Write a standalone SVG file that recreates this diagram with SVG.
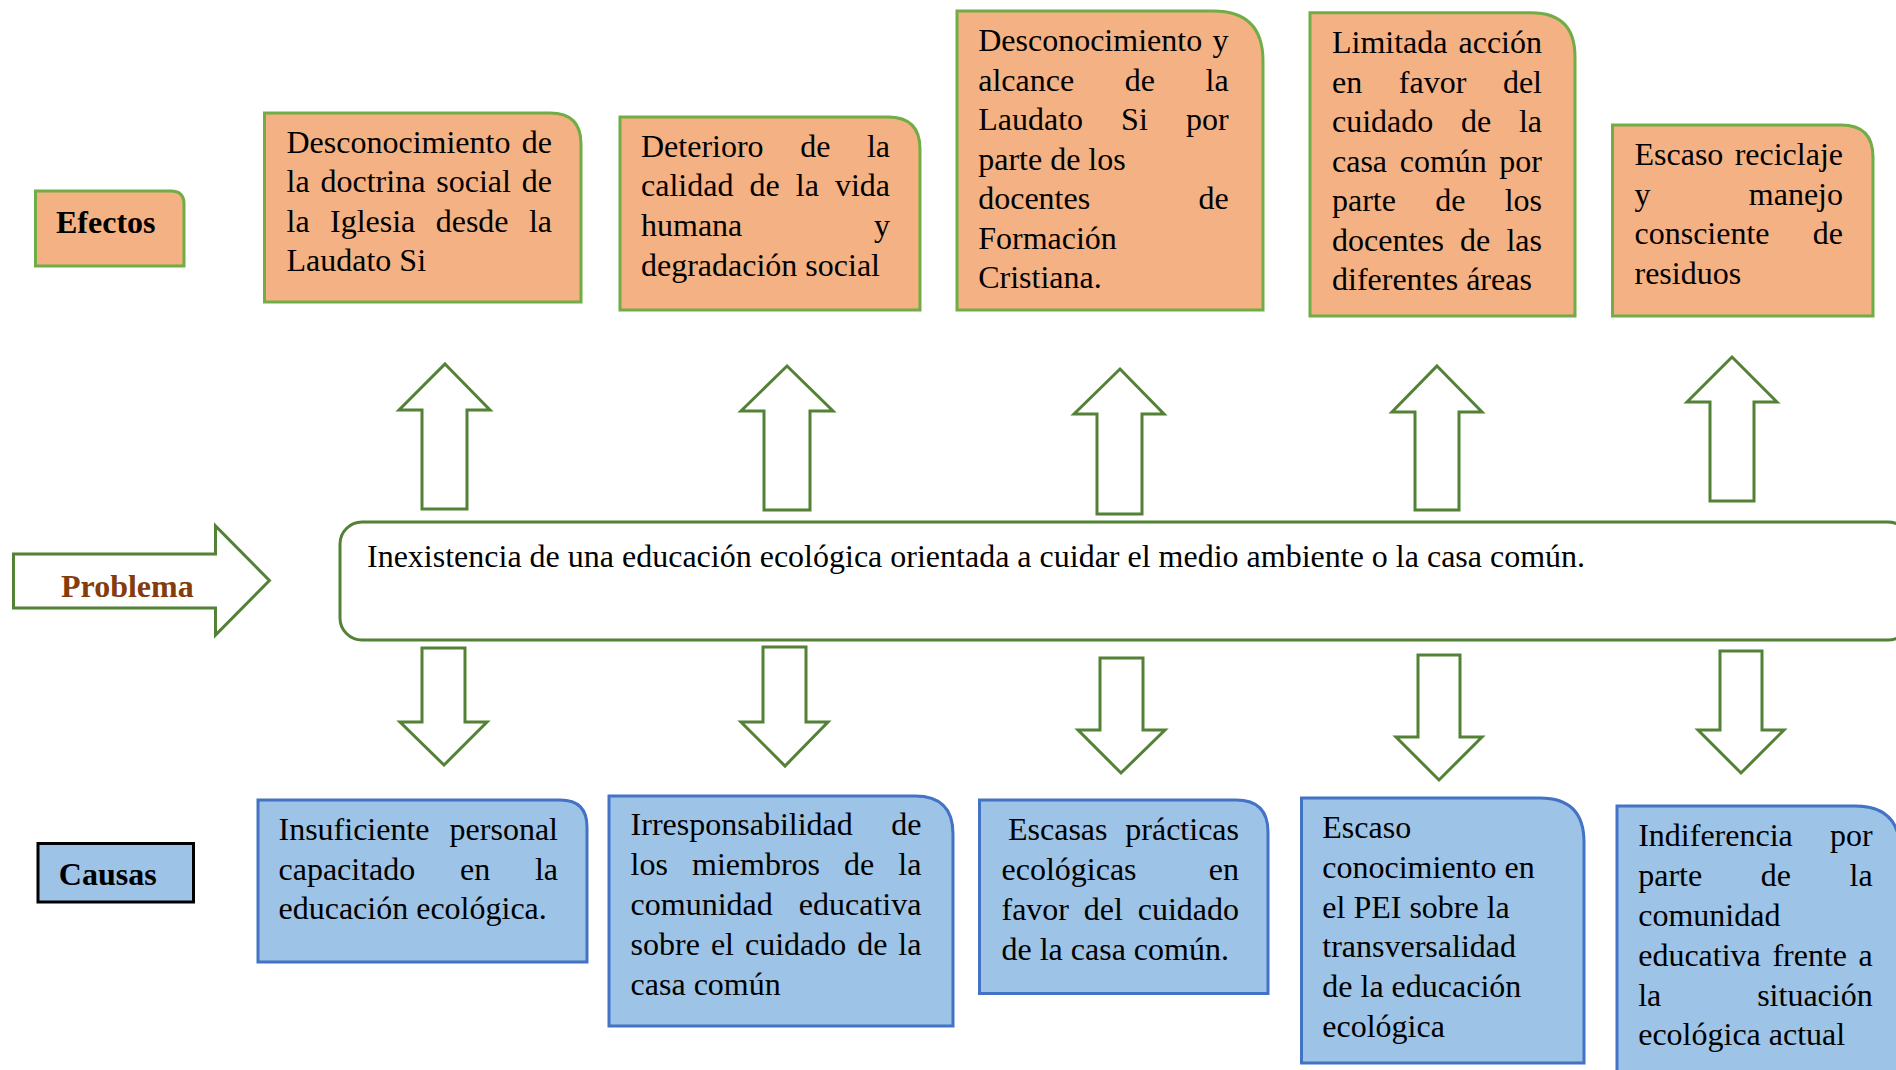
<svg xmlns="http://www.w3.org/2000/svg" width="1896" height="1070" viewBox="0 0 1896 1070">
<style>
.t{font-family:"Liberation Serif","Times New Roman",serif;font-size:32px;fill:#000}
.r{text-anchor:end}
.b{font-weight:bold}
.eff{fill:#F4B183;stroke:#70AD47;stroke-width:3}
.cau{fill:#9DC3E6;stroke:#4472C4;stroke-width:3}
.arr{fill:#fff;stroke:#538135;stroke-width:3;stroke-linejoin:miter}
</style>
<rect width="1896" height="1070" fill="#fff"/>

<g id="efectos-label">
<path class="eff" d="M35.5,191 H171 Q184,191 184,204 V266 H35.5 Z"/>
<text class="t b" x="56" y="233">Efectos</text>
</g>

<g id="efecto1">
<path class="eff" d="M264.5,113 H550 Q581,113 581,144 V302 H264.5 Z"/>
<text class="t" x="286.5" y="152.6">Desconocimiento</text><text class="t r" x="552" y="152.6">de</text>
<text class="t" y="192.2"><tspan x="286.5">la</tspan><tspan x="320.5">doctrina</tspan><tspan x="436.3">social</tspan></text><text class="t r" x="552" y="192.2">de</text>
<text class="t" y="231.8"><tspan x="286.5">la</tspan><tspan x="330">Iglesia</tspan><tspan x="435.7">desde</tspan></text><text class="t r" x="552" y="231.8">la</text>
<text class="t" x="286.5" y="271.4">Laudato Si</text>
</g>

<g id="efecto2">
<path class="eff" d="M620,117 H888 Q920,117 920,149 V310 H620 Z"/>
<text class="t" y="156.7"><tspan x="641">Deterioro</tspan><tspan x="800.2">de</tspan></text><text class="t r" x="890" y="156.7">la</text>
<text class="t" y="196.3"><tspan x="641">calidad</tspan><tspan x="749.5">de</tspan><tspan x="795.8">la</tspan></text><text class="t r" x="890" y="196.3">vida</text>
<text class="t" x="641" y="235.9">humana</text><text class="t r" x="890" y="235.9">y</text>
<text class="t" x="641" y="275.5">degradación social</text>
</g>

<g id="efecto3">
<path class="eff" d="M957,11 H1213 Q1263,11 1263,61 V310 H957 Z"/>
<text class="t" x="978.2" y="51">Desconocimiento</text><text class="t r" x="1228.6" y="51">y</text>
<text class="t" y="90.5"><tspan x="978.2">alcance</tspan><tspan x="1124.7">de</tspan></text><text class="t r" x="1228.6" y="90.5">la</text>
<text class="t" y="130"><tspan x="978.2">Laudato</tspan><tspan x="1121.1">Si</tspan></text><text class="t r" x="1228.6" y="130">por</text>
<text class="t" x="978.2" y="169.5">parte de los</text>
<text class="t" x="978.2" y="209">docentes</text><text class="t r" x="1228.6" y="209">de</text>
<text class="t" x="978.2" y="248.5">Formación</text>
<text class="t" x="978.2" y="288">Cristiana.</text>
</g>

<g id="efecto4">
<path class="eff" d="M1310,12.7 H1531 Q1575,12.7 1575,56.7 V316 H1310 Z"/>
<text class="t" x="1332" y="53">Limitada</text><text class="t r" x="1542" y="53">acción</text>
<text class="t" y="92.5"><tspan x="1332">en</tspan><tspan x="1398.8">favor</tspan></text><text class="t r" x="1542" y="92.5">del</text>
<text class="t" y="132"><tspan x="1332">cuidado</tspan><tspan x="1461">de</tspan></text><text class="t r" x="1542" y="132">la</text>
<text class="t" y="171.5"><tspan x="1332">casa</tspan><tspan x="1399.7">común</tspan></text><text class="t r" x="1542" y="171.5">por</text>
<text class="t" y="211"><tspan x="1332">parte</tspan><tspan x="1435.2">de</tspan></text><text class="t r" x="1542" y="211">los</text>
<text class="t" y="250.5"><tspan x="1332">docentes</tspan><tspan x="1460.1">de</tspan></text><text class="t r" x="1542" y="250.5">las</text>
<text class="t" x="1332" y="290">diferentes áreas</text>
</g>

<g id="efecto5">
<path class="eff" d="M1612.5,125 H1841 Q1873,125 1873,157 V316 H1612.5 Z"/>
<text class="t" x="1634.5" y="165">Escaso</text><text class="t r" x="1843" y="165">reciclaje</text>
<text class="t" x="1634.5" y="204.6">y</text><text class="t r" x="1843" y="204.6">manejo</text>
<text class="t" x="1634.5" y="244.2">consciente</text><text class="t r" x="1843" y="244.2">de</text>
<text class="t" x="1634.5" y="283.8">residuos</text>
</g>

<g id="problema-label">
<polygon class="arr" points="13.5,554 215.5,554 215.5,526 269.4,580.5 215.5,635 215.5,608 13.5,608"/>
<text class="t b" x="61" y="597" style="fill:#843C0C">Problema</text>
</g>

<g id="problema">
<rect x="340" y="522" width="1570" height="118" rx="22" ry="22" fill="#fff" stroke="#538135" stroke-width="3"/>
<text class="t" x="367" y="567">Inexistencia de una educación ecológica orientada a cuidar el medio ambiente o la casa común.</text>
</g>

<g id="causas-label">
<rect x="38" y="843.5" width="155.5" height="58.5" fill="#9DC3E6" stroke="#000" stroke-width="3"/>
<text class="t b" x="58.8" y="885">Causas</text>
</g>

<g id="causa1">
<path class="cau" d="M258,800 H560 Q587,800 587,827 V962 H258 Z"/>
<text class="t" x="278.5" y="840">Insuficiente</text><text class="t r" x="558" y="840">personal</text>
<text class="t" y="879.5"><tspan x="278.5">capacitado</tspan><tspan x="460">en</tspan></text><text class="t r" x="558" y="879.5">la</text>
<text class="t" x="278.5" y="919">educación ecológica.</text>
</g>

<g id="causa2">
<path class="cau" d="M609,796 H915 Q953,796 953,834 V1026 H609 Z"/>
<text class="t" x="630.6" y="835">Irresponsabilidad</text><text class="t r" x="921.4" y="835">de</text>
<text class="t" y="875"><tspan x="630.6">los</tspan><tspan x="692">miembros</tspan><tspan x="844.1">de</tspan></text><text class="t r" x="921.4" y="875">la</text>
<text class="t" x="630.6" y="915">comunidad</text><text class="t r" x="921.4" y="915">educativa</text>
<text class="t" y="955"><tspan x="630.6">sobre</tspan><tspan x="710.9">el</tspan><tspan x="745">cuidado</tspan><tspan x="857.3">de</tspan></text><text class="t r" x="921.4" y="955">la</text>
<text class="t" x="630.6" y="995">casa común</text>
</g>

<g id="causa3">
<path class="cau" d="M979.5,800 H1236 Q1268,800 1268,832 V993.6 H979.5 Z"/>
<text class="t" x="1008" y="840">Escasas</text><text class="t r" x="1239" y="840">prácticas</text>
<text class="t" x="1001.5" y="880">ecológicas</text><text class="t r" x="1239" y="880">en</text>
<text class="t" y="920"><tspan x="1001.5">favor</tspan><tspan x="1083.8">del</tspan></text><text class="t r" x="1239" y="920">cuidado</text>
<text class="t" x="1001.5" y="960">de la casa común.</text>
</g>

<g id="causa4">
<path class="cau" d="M1301.5,798 H1540 Q1584,798 1584,842 V1063 H1301.5 Z"/>
<text class="t" x="1322.3" y="837.5">Escaso</text>
<text class="t" x="1322.3" y="877.5">conocimiento en</text>
<text class="t" x="1322.3" y="917.5">el PEI sobre la</text>
<text class="t" x="1322.3" y="957">transversalidad</text>
<text class="t" x="1322.3" y="997">de la educación</text>
<text class="t" x="1322.3" y="1037">ecológica</text>
</g>

<g id="causa5">
<path class="cau" d="M1617,806 H1855 Q1900,806 1900,851 V1080 H1617 Z"/>
<text class="t" x="1638.2" y="846">Indiferencia</text><text class="t r" x="1872.7" y="846">por</text>
<text class="t" y="886"><tspan x="1638.2">parte</tspan><tspan x="1760.8">de</tspan></text><text class="t r" x="1872.7" y="886">la</text>
<text class="t" x="1638.2" y="926">comunidad</text>
<text class="t" y="965.5"><tspan x="1638.2">educativa</tspan><tspan x="1772.4">frente</tspan></text><text class="t r" x="1872.7" y="965.5">a</text>
<text class="t" x="1638.2" y="1005.5">la</text><text class="t r" x="1872.7" y="1005.5">situación</text>
<text class="t" x="1638.2" y="1045">ecológica actual</text>
</g>

<g id="connectors">
<polygon class="arr" points="445,364 490,410 467,410 467,509 422,509 422,410 399,410"/>
<polygon class="arr" points="787,366 833,411 810,411 810,510 764,510 764,411 741,411"/>
<polygon class="arr" points="1120,369 1164,414 1142,414 1142,514 1097,514 1097,414 1074,414"/>
<polygon class="arr" points="1437,366 1482,412 1459,412 1459,510 1415,510 1415,412 1392,412"/>
<polygon class="arr" points="1732,357 1777,402 1754,402 1754,501 1710,501 1710,402 1687,402"/>
<polygon class="arr" points="422,648 465,648 465,722 487,722 444,765 400,722 422,722"/>
<polygon class="arr" points="763,647 806,647 806,722 828,722 785,766 741,722 763,722"/>
<polygon class="arr" points="1100,658 1143,658 1143,730 1165,730 1121,773 1078,730 1100,730"/>
<polygon class="arr" points="1418,655 1460,655 1460,737 1482,737 1439,780 1396,737 1418,737"/>
<polygon class="arr" points="1720,651 1762,651 1762,730 1784,730 1741,773 1698,730 1720,730"/>
</g>
</svg>
